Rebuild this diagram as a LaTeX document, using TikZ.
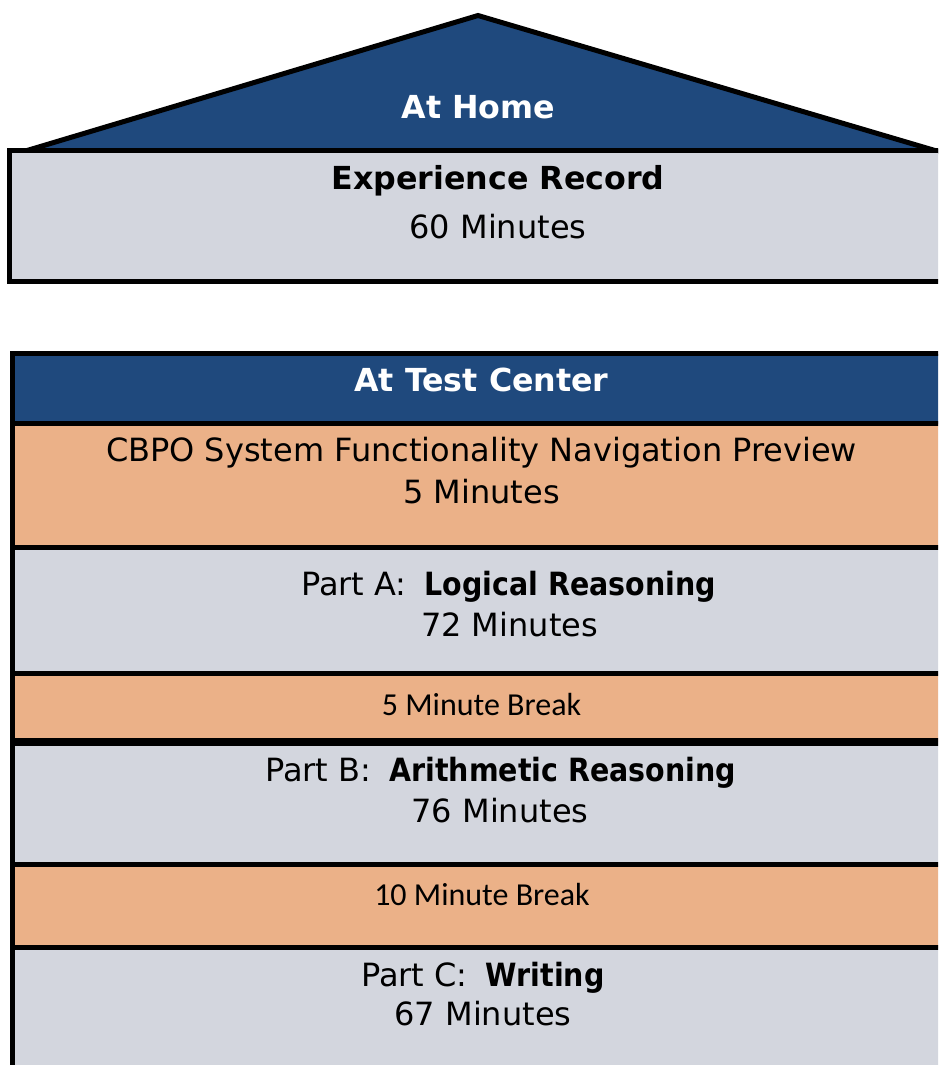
\documentclass[tikz,border=0pt]{standalone}
\usepackage{fontspec}
\setmainfont{DejaVu Sans}
\newfontfamily\brkfont{Carlito}
\newfontfamily\condfont{DejaVu Sans}[FakeStretch=0.89]
\definecolor{roofblue}{RGB}{31,73,125}
\definecolor{boxgray}{RGB}{211,214,222}
\definecolor{boxorange}{RGB}{235,177,136}
\newcommand{\subjname}[1]{\hspace{18pt}{\condfont\bfseries #1}}
\tikzset{
  lbl/.style={anchor=base, inner sep=0pt, font=\fontsize{32}{36}\selectfont},
  hdr/.style={lbl, text=white, font=\fontsize{31.7}{36}\bfseries\selectfont},
  partline/.style={lbl, anchor=base west},
  brk/.style={anchor=base, inner sep=0pt, font=\fontsize{32}{36}\brkfont\selectfont},
  edge/.style={line width=5pt, draw=black}
}
\begin{document}
\begin{tikzpicture}[x=1pt,y=-1pt]
\useasboundingbox (0,0) rectangle (938,1065);
\clip (0,0) rectangle (938,1065);
\fill[white] (0,0) rectangle (938,1065);
% ---- At Home ----
\fill[roofblue] (25,151) -- (478,15.5) -- (935,151) -- cycle;
\draw[edge, line join=miter] (22,152) -- (478,15.5) -- (940,152);
\draw[edge, fill=boxgray] (9.5,150.5) rectangle (960,281.5);
\node[hdr] (home) at (478.5,118) {At Home};
\node[lbl, font=\fontsize{31.7}{36}\bfseries\selectfont] (exp) at (498,189.5) {Experience Record};
\node[lbl] (expmin) at (498,238.5) {60 Minutes};
% ---- At Test Center ----
\fill[roofblue]  (12.5,353.5) rectangle (960,423.5);
\fill[boxorange] (12.5,423.5) rectangle (960,547.5);
\fill[boxgray]   (12.5,547.5) rectangle (960,673.5);
\fill[boxorange] (12.5,673.5) rectangle (960,742);
\fill[boxgray]   (12.5,742)   rectangle (960,864.5);
\fill[boxorange] (12.5,864.5) rectangle (960,947.5);
\fill[boxgray]   (12.5,947.5) rectangle (960,1090);
\draw[edge] (12.5,1090) -- (12.5,353.5) -- (960,353.5);
\draw[edge] (10,423.5) -- (960,423.5);
\draw[edge] (10,547.5) -- (960,547.5);
\draw[edge] (10,673.5) -- (960,673.5);
\draw[edge, line width=7.5pt] (10,742) -- (960,742);
\draw[edge] (10,864.5) -- (960,864.5);
\draw[edge] (10,947.5) -- (960,947.5);
\node[hdr] (center) at (481.5,391.7) {At Test Center};
\node[lbl] (cbpo) at (481.5,461.7) {CBPO System Functionality Navigation Preview};
\node[lbl] (cbpomin) at (481.5,503.3) {5 Minutes};
\node[partline] (parta) at (301,595) {Part A:\subjname{Logical Reasoning}};
\node[lbl] (partamin) at (509.5,636) {72 Minutes};
\node[brk] (brk1) at (481.5,715) {5 Minute Break};
\node[partline] (partb) at (265,781.7) {Part B:\subjname{Arithmetic Reasoning}};
\node[lbl] (partbmin) at (500,822.7) {76 Minutes};
\node[brk] (brk2) at (482,905) {10 Minute Break};
\node[partline] (partc) at (361,986) {Part C:\subjname{Writing}};
\node[lbl] (partcmin) at (483,1025.7) {67 Minutes};
\end{tikzpicture}
\end{document}
